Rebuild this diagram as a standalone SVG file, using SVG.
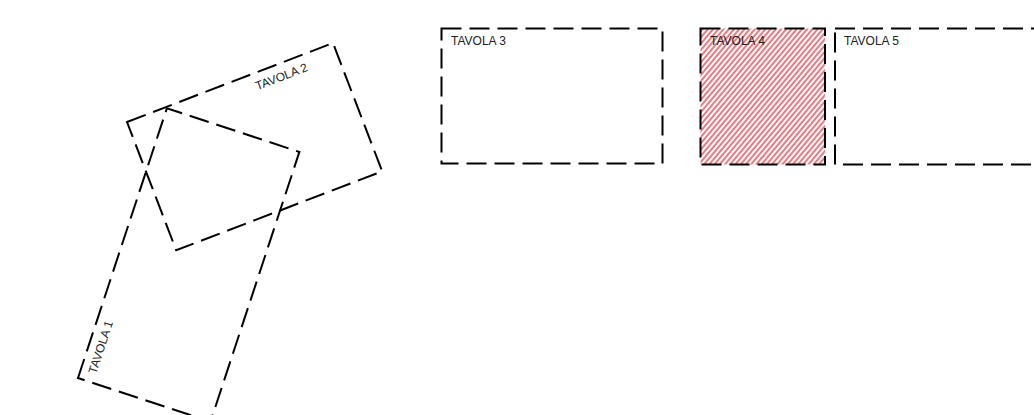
<svg xmlns="http://www.w3.org/2000/svg" width="1034" height="415" viewBox="0 0 1034 415">
  <style>
    .frame { fill: none; stroke: #000; stroke-width: 2; stroke-dasharray: 20 8; }
    .label { font-family: "Liberation Sans", Arial, sans-serif; font-size: 12px; fill: #222; }
  </style>
  <defs>
    <pattern id="hatch" patternUnits="userSpaceOnUse" width="4" height="4" patternTransform="rotate(40)">
      <rect width="4" height="4" fill="#fff"/>
      <line x1="1" y1="0" x2="1" y2="4" stroke="#e0202c" stroke-width="1.2"/>
    </pattern>
  </defs>
  <rect width="1034" height="415" fill="#fff"/>

  <g id="tavola1" transform="translate(78,378) rotate(-71.76)">
    <rect class="frame" x="0" y="0" width="284" height="139.5"/>
    <text class="label" x="9" y="16">TAVOLA 1</text>
  </g>

  <g id="tavola2" transform="translate(127,122) rotate(-20.98)">
    <rect class="frame" x="0" y="0" width="220.6" height="137.4"/>
    <text class="label" x="133" y="17">TAVOLA 2</text>
  </g>

  <g id="tavola3">
    <rect class="frame" x="441.5" y="28.5" width="221" height="135"/>
    <text class="label" x="451" y="45">TAVOLA 3</text>
  </g>

  <g id="tavola4">
    <rect x="700.5" y="28.5" width="124.5" height="136" fill="url(#hatch)"/>
    <rect class="frame" x="700.5" y="28.5" width="124.5" height="136"/>
    <text class="label" x="710" y="45">TAVOLA 4</text>
  </g>

  <g id="tavola5">
    <rect class="frame" x="835" y="28.5" width="240" height="136"/>
    <text class="label" x="844" y="45">TAVOLA 5</text>
  </g>

  <g id="connectors"></g>
</svg>
